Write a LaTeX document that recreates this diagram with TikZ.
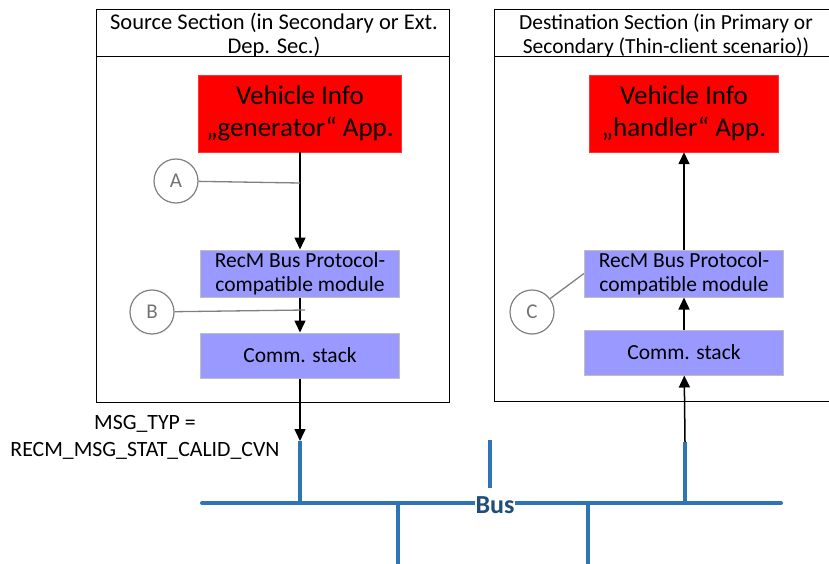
\documentclass[tikz,border=0pt]{standalone}
\usepackage{fontspec}
\setmainfont{Carlito}
\usetikzlibrary{arrows.meta}
\definecolor{modblue}{HTML}{9999FF}
\definecolor{busblue}{HTML}{2E75B6}
\definecolor{busdark}{HTML}{1F4E79}
\begin{document}
\begin{tikzpicture}[x=1pt,y=-1pt,
      sec/.style={draw,line width=1pt},
      head/.style={align=center,inner sep=0pt,font=\fontsize{22.5}{24}\selectfont},
      app/.style={fill=red,draw=red!80!white,inner sep=0pt,minimum height=77pt,align=center,font=\fontsize{27}{32}\selectfont},
      mod/.style={fill=modblue,draw=black!25,line width=1pt,inner sep=0pt,minimum width=199pt,align=center,font=\fontsize{21.5}{24}\selectfont},
      tag/.style={circle,draw=black!50,line width=1.2pt,minimum size=44pt,inner sep=0pt,text=black!55,font=\fontsize{21}{21}\selectfont},
      lead/.style={draw=black!50,line width=1.3pt},
      flow/.style={line width=1.5pt,-{Triangle[width=11pt,length=12pt]}},
      bus/.style={draw=busblue,line width=4pt}]
      \useasboundingbox (0,0) rectangle (829,564);
      % source section
      \draw[sec] (96,10) rectangle (449,402);
      \draw[sec] (96,57) -- (449,57);
      \node[head] (srchead) at (274,35) {Source Section (in Secondary or Ext.\\Dep. Sec.)};
      % destination section
      \draw[sec] (494,10) rectangle (840,401);
      \draw[sec] (494,57) -- (840,57);
      \node[head,font=\fontsize{21.5}{24}\selectfont] (dsthead) at (666,35) {Destination Section (in Primary or\\Secondary (Thin-client scenario))};
      % apps and modules
      \node[app,minimum width=203pt] (gen) at (300,113.5) {Vehicle Info\\„generator“ App.};
      \node[app,minimum width=189pt] (hdl) at (684,113.5) {Vehicle Info\\„handler“ App.};
      \node[mod,minimum height=47pt] (rec1) at (300,273.5) {RecM Bus Protocol-\\compatible module};
      \node[mod,minimum height=45pt] (stk1) at (300,355.5) {Comm. stack};
      \node[mod,minimum height=47pt] (rec2) at (684,273.5) {RecM Bus Protocol-\\compatible module};
      \node[mod,minimum height=45pt] (stk2) at (684,352.5) {Comm. stack};
      % bus
      \coordinate (busL) at (202,503);
      \coordinate (busR) at (781,503);
      \coordinate (tap1) at (300,441);
      \coordinate (tap2) at (685,442);
      \draw[bus,line cap=round] (busL) -- (busR);
      \draw[bus] (tap1) -- (300,505);
      \draw[bus] (tap2) -- (685,505);
      \draw[bus] (490,440) -- (490,488);
      \draw[bus] (398,501) -- (398,564);
      \draw[bus] (588,501) -- (588,564);
      \node[fill=white,inner sep=1pt,text=busdark,font=\bfseries\fontsize{26}{26}\selectfont] (buslabel) at (495,505) {Bus};
      % flows
      \draw[flow] (gen) -- (rec1);
      \draw[flow] (rec1) -- (stk1);
      \draw[flow] (stk1) -- (tap1);
      \draw[flow] (tap2) -- (stk2);
      \draw[flow] (stk2) -- (rec2);
      \draw[flow] (rec2) -- (hdl);
      \node[align=center,font=\fontsize{21.8}{27}\selectfont] (msg) at (145,437) {MSG\_TYP =\\RECM\_MSG\_STAT\_CALID\_CVN};
      % markers
      \node[tag] (A) at (176,181) {A};
      \node[tag] (B) at (152,312) {B};
      \node[tag] (C) at (532,312) {C};
      \draw[lead] (A) -- (300,183);
      \draw[lead] (B) -- (305,310);
      \draw[lead] (C) -- (rec2.west);
\end{tikzpicture}
\end{document}
